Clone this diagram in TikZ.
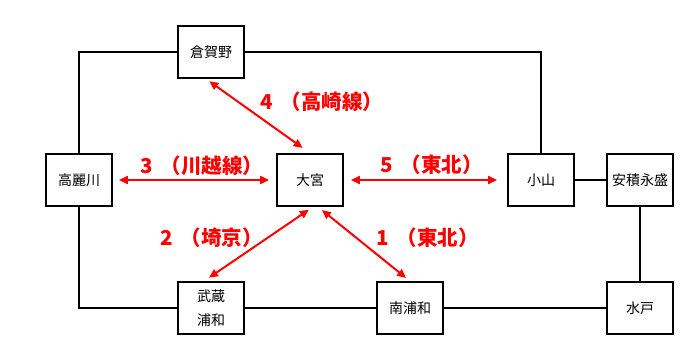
\documentclass[tikz,border=0pt]{standalone}
\usepackage{fontspec}
\setmainfont{Noto Sans CJK JP}
\usetikzlibrary{arrows.meta, positioning, calc}

\begin{document}
\begin{tikzpicture}[x=1pt, y=-1pt,
  station/.style={draw, rectangle, line width=1.8pt, minimum width=66pt, minimum height=52pt,
    inner sep=0pt, align=center, font=\fontsize{14}{24}\selectfont},
  track/.style={line width=1.6pt},
  route/.style={red, line width=2pt, {Triangle[length=9pt,width=8pt]}-{Triangle[length=9pt,width=8pt]}},
  routelabel/.style={red, anchor=west, inner sep=0pt, font=\fontsize{20.5}{24}\selectfont\bfseries}]

  \useasboundingbox (0,0) rectangle (694,351);

  % ==== Stations ====
  \node[station] (kuragano) at (211,52)  {倉賀野};
  \node[station] (komagawa) at (79,180)  {高麗川};
  \node[station] (omiya)    at (310,180) {大宮};
  \node[station] (oyama)    at (541,180) {小山};
  \node[station] (asaka)    at (640,180) {安積永盛};
  \node[station] (musashi)  at (211,308) {武蔵\\浦和};
  \node[station] (minami)   at (410,308) {南浦和};
  \node[station] (mito)     at (640,308) {水戸};

  % ==== Outer loop ====
  \draw[track] (kuragano.west) -| (komagawa.north);
  \draw[track] (kuragano.east) -| (oyama.north);
  \draw[track] (komagawa.south) |- (musashi.west);
  \draw[track] (musashi) -- (minami);
  \draw[track] (minami) -- (mito);
  \draw[track] (oyama) -- (asaka);
  \draw[track] (asaka) -- (mito);

  % ==== Routes from Omiya ====
  \draw[route, shorten <=4pt, shorten >=9pt] ($(kuragano.south)+(-5,0)$) -- (omiya.north);
  \draw[route, shorten <=6pt, shorten >=7pt] (komagawa.east) -- (omiya.west);
  \draw[route, shorten <=7pt, shorten >=10pt] (omiya.east) -- (oyama.west);
  \draw[route, shorten <=5pt, shorten >=6pt] ($(omiya.south)+(3,0)$) -- ($(musashi.north)+(-7,0)$);
  \draw[route, shorten <=5pt, shorten >=5pt] ($(omiya.south)+(8,0)$) -- (minami.north);

  % Route labels
  \node[routelabel] (lab4) at (260,102) {4\hspace{0.4em}（高崎線）};
  \node[routelabel] (lab3) at (140,166) {3\hspace{0.4em}（川越線）};
  \node[routelabel] (lab5) at (380,165) {5\hspace{0.4em}（東北）};
  \node[routelabel] (lab2) at (160,238) {2\hspace{0.4em}（埼京）};
  \node[routelabel] (lab1) at (376,238) {1\hspace{0.4em}（東北）};
\end{tikzpicture}
\end{document}
